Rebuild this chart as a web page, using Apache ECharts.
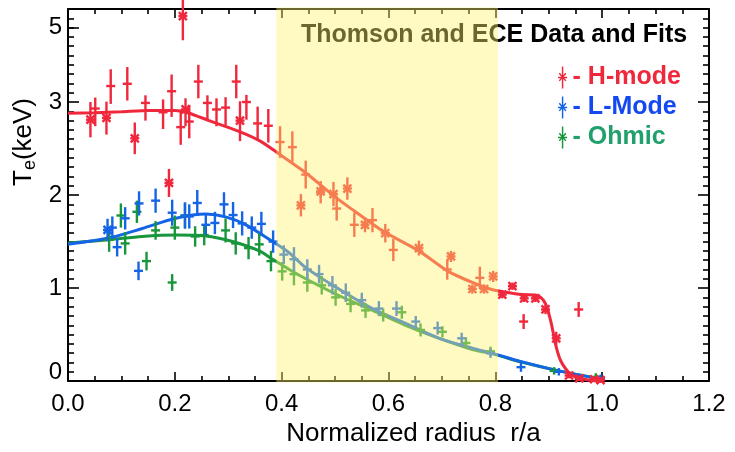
<!DOCTYPE html>
<html>
<head>
<meta charset="utf-8">
<script src="https://cdn.jsdelivr.net/npm/echarts@6/dist/echarts.min.js"></script>
<style>
html,body{margin:0;padding:0;background:#fff;}
#c{width:735px;height:452px;}
</style>
</head>
<body>
<div id="c"></div>
<script>
// ---------- DATA (r/a, Te keV, error keV) ----------
const X_TICKS = [0.0, 0.2, 0.4, 0.6, 0.8, 1.0, 1.2];
const Y_TICK_LABELS = [0, 1, 2, 3, 5];
const BAND = [0.39, 0.805];

const H_PLUS = [
  [0.051,2.93,0.19],[0.080,3.43,0.45],[0.111,3.49,0.45],[0.145,2.99,0.19],
  [0.178,2.89,0.18],[0.194,3.29,0.45],[0.211,2.73,0.19],[0.227,2.79,0.18],
  [0.244,3.55,0.45],[0.261,2.99,0.19],[0.278,2.92,0.18],[0.295,2.94,0.19],
  [0.315,3.55,0.45],[0.334,3.00,0.19],[0.355,2.77,0.18],[0.375,2.745,0.18],
  [0.397,2.57,0.17],[0.420,2.515,0.17],[0.445,2.22,0.15],[0.473,2.03,0.12],
  [0.503,1.855,0.13],[0.536,1.68,0.13],[0.570,1.73,0.13],[0.609,1.41,0.12],
  [0.710,1.20,0.11],[0.771,1.11,0.12],[0.853,0.64,0.08],[0.956,0.77,0.08]
];
const H_STAR = [
  [0.042,2.81,0.19],[0.072,2.83,0.18],[0.125,2.61,0.17],[0.189,2.13,0.15],
  [0.215,5.31,0.65],[0.220,2.92,0.18],[0.322,2.80,0.22],[0.436,1.89,0.12],
  [0.473,2.04,0.06],[0.497,2.01,0.13],[0.523,2.07,0.12],[0.556,1.68,0.08],
  [0.594,1.59,0.10],[0.657,1.43,0.08],[0.717,1.34,0.06],[0.757,0.99,0.05],
  [0.779,0.99,0.05],[0.796,1.125,0.06],[0.813,0.93,0.04],[0.832,1.02,0.04],
  [0.854,0.89,0.04],[0.875,0.89,0.04],[0.894,0.77,0.05],[0.914,0.46,0.07],
  [0.938,0.06,0.03],[0.957,0.03,0.03],[0.985,0.02,0.03],[0.997,0.01,0.03]
];
const L_PLUS = [
  [0.083,1.65,0.12],[0.092,1.44,0.10],[0.107,1.75,0.12],[0.132,1.185,0.10],
  [0.133,1.91,0.13],[0.164,1.94,0.13],[0.195,1.81,0.14],[0.219,1.78,0.14],
  [0.227,1.77,0.13],[0.242,1.915,0.14],[0.258,1.68,0.11],[0.275,1.70,0.12],
  [0.292,1.90,0.13],[0.309,1.785,0.14],[0.326,1.695,0.13],[0.344,1.65,0.12],
  [0.362,1.69,0.13],[0.384,1.50,0.12],[0.404,1.36,0.10],[0.423,1.31,0.13],
  [0.448,1.20,0.11],[0.470,1.15,0.10],[0.495,1.03,0.10],[0.520,0.95,0.10],
  [0.550,0.87,0.08],[0.582,0.78,0.08],[0.615,0.78,0.08],[0.651,0.64,0.06],
  [0.692,0.57,0.07],[0.737,0.46,0.06],[0.791,0.30,0.05],[0.848,0.15,0.05],
  [0.919,0.10,0.04],[0.997,0.03,0.04]
];
const L_STAR = [
  [0.074,1.625,0.12]
];
const O_PLUS = [
  [0.077,1.52,0.13],[0.099,1.78,0.13],[0.107,1.48,0.12],[0.129,1.82,0.12],
  [0.147,1.29,0.10],[0.164,1.62,0.10],[0.195,1.06,0.09],[0.200,1.65,0.13],
  [0.219,1.78,0.14],[0.238,1.555,0.11],[0.255,1.57,0.11],[0.295,1.62,0.13],
  [0.314,1.48,0.12],[0.338,1.43,0.12],[0.358,1.47,0.12],[0.380,1.29,0.11],
  [0.401,1.18,0.10],[0.423,1.15,0.12],[0.448,1.06,0.10],[0.475,1.03,0.10],
  [0.501,0.90,0.09],[0.529,0.83,0.09],[0.557,0.76,0.08],[0.590,0.71,0.07],
  [0.625,0.74,0.07],[0.660,0.55,0.07],[0.701,0.53,0.06],[0.745,0.41,0.06],
  [0.791,0.32,0.05],[0.910,0.11,0.04],[0.988,0.045,0.04]
];

const H_FIT_R = [0,0.05,0.10,0.15,0.20,0.227,0.264,0.32,0.36,0.392,0.445,0.50,0.526,0.59,0.657,0.71,0.757,0.79,0.82,0.85,0.875,0.885,0.894,0.904,0.913,0.92,0.926,0.935,0.944,0.96,0.982,1.0];
const H_FIT_V = [2.88,2.885,2.895,2.91,2.91,2.88,2.80,2.685,2.58,2.455,2.24,1.98,1.87,1.61,1.40,1.185,1.06,0.99,0.955,0.93,0.925,0.90,0.83,0.64,0.39,0.25,0.18,0.11,0.06,0.025,0.005,-0.01];
const L_FIT_R = [0,0.077,0.139,0.202,0.258,0.295,0.333,0.383,0.414,0.445,0.507,0.57,0.632,0.695,0.757,0.80,0.845,0.919,1.0];
const L_FIT_V = [1.47,1.54,1.64,1.75,1.795,1.765,1.68,1.50,1.38,1.22,0.99,0.78,0.62,0.46,0.355,0.29,0.215,0.11,0.02];
const O_FIT_R = [0,0.077,0.139,0.202,0.258,0.308,0.358,0.383,0.414,0.445,0.507,0.57,0.632,0.695,0.757,0.80,0.845,0.919,1.0];
const O_FIT_V = [1.485,1.52,1.555,1.57,1.56,1.50,1.40,1.31,1.20,1.10,0.92,0.76,0.60,0.46,0.34,0.285,0.21,0.11,0.02];

// ---------- axis transform: linear 0..3, compressed above 3 ----------
const BREAK = 3, SQUEEZE = 0.4;
const tr = v => v <= BREAK ? v : BREAK + (v - BREAK) * SQUEEZE;
const inv = t => t <= BREAK ? t : BREAK + (t - BREAK) / SQUEEZE;
const Y_MAX_T = tr(5.5);

const C_H = '#f0283c', C_L = '#1464e6', C_O = '#18963c';
const FONT = 'Liberation Sans';

function pts(plus, star) {
  return plus.map(p => [p[0], p[1], p[2], 0]).concat(star.map(p => [p[0], p[1], p[2], 1]));
}
function fit(rs, vs) { return rs.map((r, i) => [r, tr(vs[i])]); }

function renderErr(params, api) {
  const r = api.value(0), v = api.value(1), e = api.value(2), kind = api.value(3);
  const c = api.coord([r, tr(v)]);
  const top = api.coord([r, tr(v + e)]);
  const bot = api.coord([r, tr(v - e)]);
  const color = api.visual('color');
  const st = {stroke: color, lineWidth: 2.4};
  const ch = [{type: 'line', shape: {x1: c[0], y1: top[1], x2: c[0], y2: bot[1]}, style: st}];
  const h = 4.5;
  ch.push({type: 'line', shape: {x1: c[0] - h, y1: c[1], x2: c[0] + h, y2: c[1]}, style: st});
  if (kind === 1) {
    const d = 4;
    ch.push({type: 'line', shape: {x1: c[0] - d, y1: c[1] - d, x2: c[0] + d, y2: c[1] + d}, style: st});
    ch.push({type: 'line', shape: {x1: c[0] - d, y1: c[1] + d, x2: c[0] + d, y2: c[1] - d}, style: st});
  }
  return {type: 'group', children: ch};
}

function renderBand(params, api) {
  const a = api.coord([api.value(0), Y_MAX_T]);
  const b = api.coord([api.value(1), 0]);
  return {type: 'rect', shape: {x: a[0], y: a[1] - 1.5, width: b[0] - a[0], height: b[1] - a[1] + 3},
          style: {fill: 'rgba(255,243,110,0.42)'}};
}

const ICON = 'path://M4.2,0H5.8V24H4.2Z M0,11.3H10V12.7H0Z M0.8,7.8L2,6.8L9.2,15.2L8,16.2Z M8,6.8L9.2,7.8L2,16.2L0.8,15.2Z';

const axisCommon = {
  min: 0,
  axisLine: {show: true, onZero: false, lineStyle: {color: '#000', width: 2}},
  splitLine: {show: false},
};

const option = {
  animation: false,
  backgroundColor: '#fff',
  grid: {left: 68, right: 26, top: 9, bottom: 65},
  title: {
    text: 'Thomson and ECE Data and Fits', left: 296, top: 18, z: 1,
    textStyle: {fontFamily: FONT, fontSize: 25, fontWeight: 'bold', color: '#000'}
  },
  legend: {
    orient: 'vertical', left: 553, top: 60, itemGap: 5, itemWidth: 10, itemHeight: 22,
    formatter: n => '- ' + n,
    textStyle: {fontFamily: FONT, fontSize: 25, fontWeight: 'bold'},
    data: [
      {name: 'H-mode', icon: ICON, textStyle: {color: C_H}},
      {name: 'L-Mode', icon: ICON, textStyle: {color: '#1448f0'}},
      {name: 'Ohmic', icon: ICON, textStyle: {color: '#1fa06c'}}
    ]
  },
  xAxis: [
    Object.assign({}, axisCommon, {
      type: 'value', position: 'bottom', max: 1.2, interval: 0.2,
      name: 'Normalized radius  r/a', nameLocation: 'middle', nameGap: 37,
      nameTextStyle: {fontFamily: FONT, fontSize: 26, color: '#000', padding: [0, 0, 0, 50]},
      axisTick: {show: true, inside: true, length: 9, lineStyle: {color: '#000', width: 1.6}},
      minorTick: {show: true, splitNumber: 4, length: 5, lineStyle: {color: '#000', width: 1.6}},
      axisLabel: {show: true, margin: 11, color: '#000', fontFamily: FONT, fontSize: 24,
        formatter: v => X_TICKS.find(t => Math.abs(t - v) < 1e-6).toFixed(1)}
    }),
    Object.assign({}, axisCommon, {
      type: 'value', position: 'top', max: 1.2, interval: 0.2,
      axisTick: {show: true, inside: true, length: 9, lineStyle: {color: '#000', width: 1.6}},
      minorTick: {show: true, splitNumber: 4, length: 5, lineStyle: {color: '#000', width: 1.6}},
      axisLabel: {show: false}
    })
  ],
  yAxis: [
    Object.assign({}, axisCommon, {
      type: 'value', position: 'left', max: Y_MAX_T, interval: 1,
      axisTick: {show: true, inside: true, length: 11, customValues: Y_TICK_LABELS.map(tr),
        lineStyle: {color: '#000', width: 1.6}},
      minorTick: {show: true, splitNumber: 10, length: 6, lineStyle: {color: '#000', width: 1.6}},
      axisLabel: {show: true, margin: 6, color: '#000', fontFamily: FONT, fontSize: 24,
        customValues: Y_TICK_LABELS.map(v => v === 0 ? 0.09 : tr(v)),
        formatter: t => String(Math.round(inv(t)))}
    }),
    Object.assign({}, axisCommon, {
      type: 'value', position: 'right', max: Y_MAX_T, interval: 1,
      axisTick: {show: true, inside: true, length: 11, customValues: [0, 1, 2, 3],
        lineStyle: {color: '#000', width: 1.6}},
      minorTick: {show: true, splitNumber: 10, length: 6, lineStyle: {color: '#000', width: 1.6}},
      axisLabel: {show: false}
    })
  ],
  graphic: [{
    type: 'text', x: 11, y: 186, rotation: Math.PI / 2, z: 10,
    style: {
      text: '{t|T}{s|e}{t|(keV)}',
      rich: {
        t: {fontFamily: FONT, fontSize: 26, fill: '#000', verticalAlign: 'top', padding: [0, 0, 5, 0], lineHeight: 28},
        s: {fontFamily: FONT, fontSize: 18, fill: '#000', verticalAlign: 'bottom', lineHeight: 18}
      }
    }
  }],
  series: [
    {type: 'line', name: 'Ohmic fit', data: fit(O_FIT_R, O_FIT_V), showSymbol: false, smooth: 0.3,
      lineStyle: {color: C_O, width: 3}, z: 3},
    {type: 'line', name: 'L fit', data: fit(L_FIT_R, L_FIT_V), showSymbol: false, smooth: 0.3,
      lineStyle: {color: C_L, width: 3}, z: 3},
    {type: 'line', name: 'H fit', data: fit(H_FIT_R, H_FIT_V), showSymbol: false, smooth: 0.2,
      lineStyle: {color: C_H, width: 3}, z: 3},
    {type: 'custom', name: 'Ohmic', renderItem: renderErr, data: pts(O_PLUS, []),
      encode: {x: 0, y: 1}, itemStyle: {color: C_O}, z: 4, clip: false},
    {type: 'custom', name: 'L-Mode', renderItem: renderErr, data: pts(L_PLUS, L_STAR),
      encode: {x: 0, y: 1}, itemStyle: {color: C_L}, z: 4, clip: false},
    {type: 'custom', name: 'H-mode', renderItem: renderErr, data: pts(H_PLUS, H_STAR),
      encode: {x: 0, y: 1}, itemStyle: {color: C_H}, z: 5, clip: false},
    {type: 'custom', name: 'band', renderItem: renderBand, data: [BAND],
      encode: {x: [0, 1]}, z: 20, silent: true, clip: false}
  ]
};

const chart = echarts.init(document.getElementById('c'), null, {renderer: 'canvas'});
chart.setOption(option);
</script>
</body>
</html>
